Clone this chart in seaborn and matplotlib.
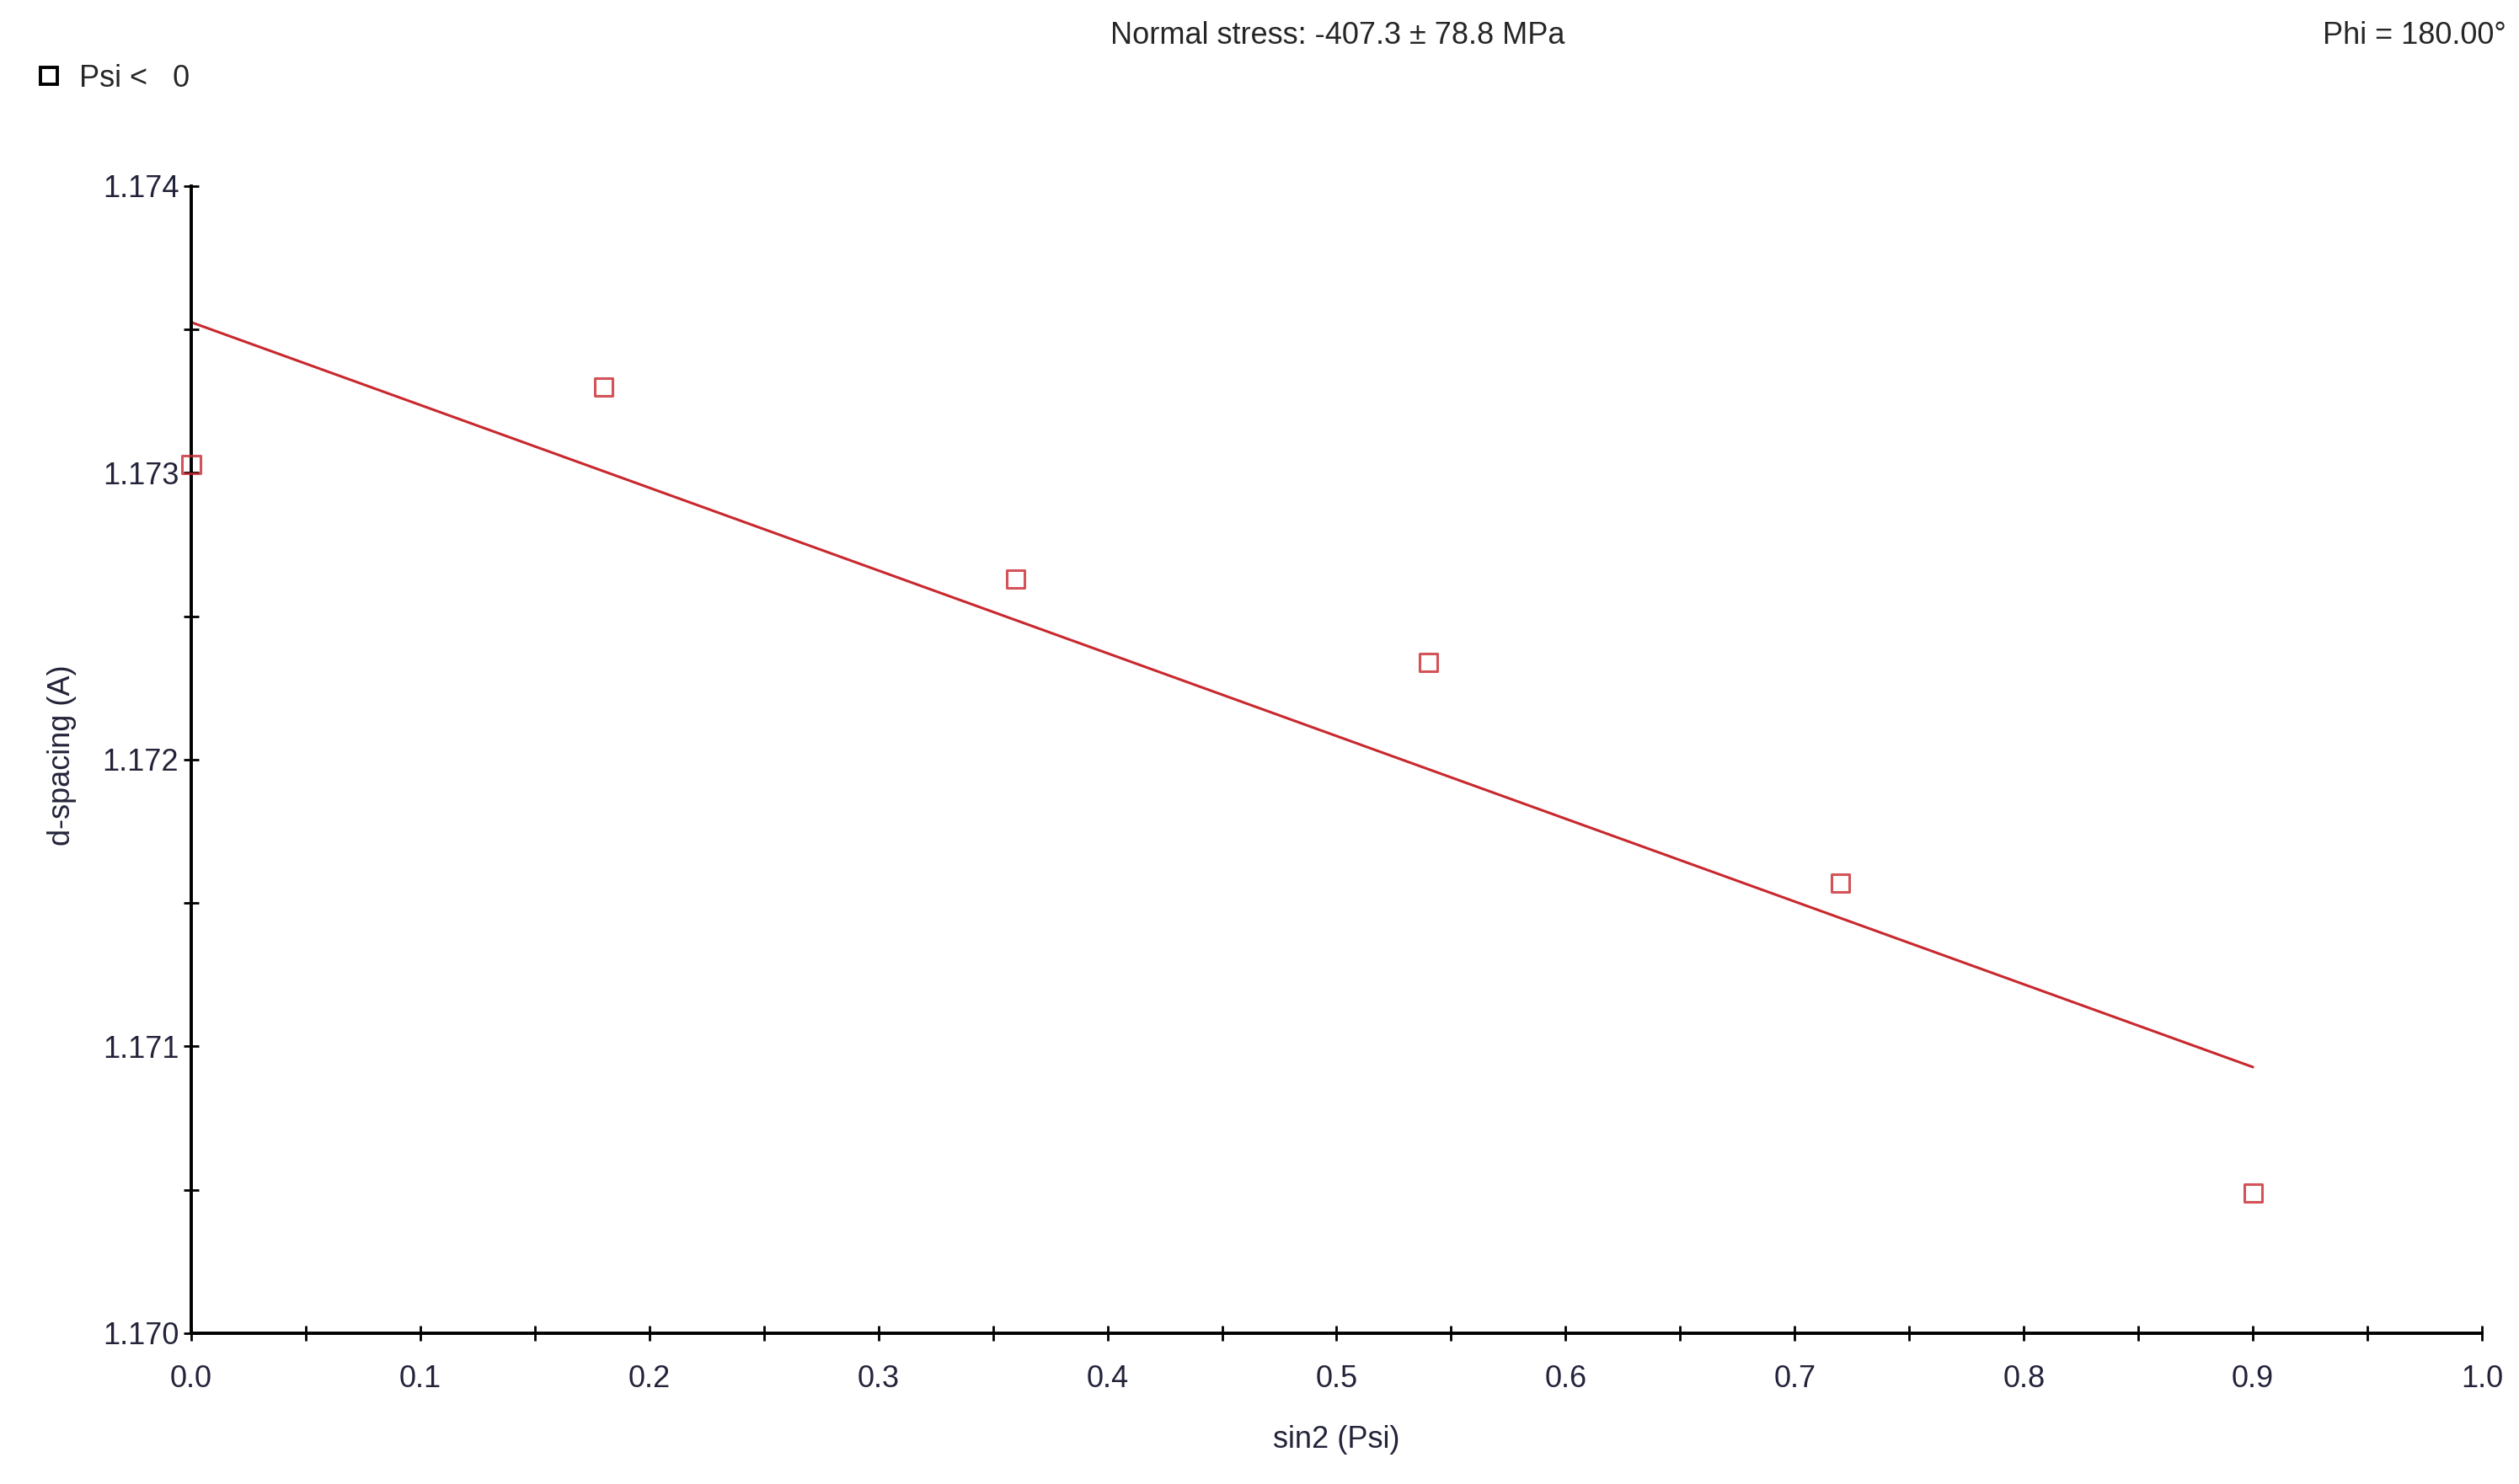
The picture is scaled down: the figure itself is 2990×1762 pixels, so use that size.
import numpy as np
import pandas as pd
import seaborn as sns
import matplotlib.pyplot as plt
from matplotlib.lines import Line2D
from matplotlib.ticker import MultipleLocator, FormatStrFormatter

sin2_psi = [0.0, 0.18, 0.36, 0.54, 0.72, 0.90]
d_spacing = [1.17303, 1.17330, 1.17263, 1.17234, 1.17157, 1.17049]

title_text = "Normal stress: -407.3 \u00b1 78.8 MPa"
phi_text = "Phi = 180.00\u00b0"
legend_text = "Psi <   0"

df = pd.DataFrame({"sin2_psi": sin2_psi, "d_spacing": d_spacing})

sns.set_style("ticks")
plt.rcParams["font.family"] = ["Liberation Sans", "DejaVu Sans"]

red = "#c8282e"
tick_col = "#23233a"

fig = plt.figure(figsize=(14.95, 8.81), dpi=200)
ax = fig.add_axes([0.0759, 0.1016, 0.9853 - 0.0759, 0.8746 - 0.1016])

sns.regplot(x="sin2_psi", y="d_spacing", data=df, ci=None, truncate=True,
            marker="s", color=red, ax=ax,
            scatter_kws={"s": 58, "facecolors": "none", "linewidths": 1.1,
                         "clip_on": False, "zorder": 3},
            line_kws={"linewidth": 1.1})

ax.set_xlim(0.0, 1.0)
ax.set_ylim(1.170, 1.174)
ax.xaxis.set_major_locator(MultipleLocator(0.1))
ax.xaxis.set_minor_locator(MultipleLocator(0.05))
ax.yaxis.set_major_locator(MultipleLocator(0.001))
ax.yaxis.set_minor_locator(MultipleLocator(0.0005))
ax.xaxis.set_major_formatter(FormatStrFormatter("%.1f"))
ax.yaxis.set_major_formatter(FormatStrFormatter("%.3f"))

sns.despine(ax=ax)
for side in ["left", "bottom"]:
    ax.spines[side].set_linewidth(1.4)
    ax.spines[side].set_color("black")

ax.tick_params(which="both", direction="inout", length=6.5, width=1.0,
               color="black", labelsize=13, labelcolor=tick_col)
ax.tick_params(axis="x", which="major", pad=10)
ax.tick_params(axis="y", which="major", pad=2)

ax.set_xlabel("sin2 (Psi)", fontsize=13, color=tick_col)
ax.set_ylabel("d-spacing (A)", fontsize=13, color=tick_col)
ax.xaxis.set_label_coords(0.5, -0.080)
ax.yaxis.set_label_coords(-0.050, 0.504)

fig.text(0.531, 0.976, title_text, ha="center", va="center", fontsize=13)
fig.text(0.995, 0.976, phi_text, ha="right", va="center", fontsize=13)

handle = Line2D([], [], marker="s", linestyle="", markerfacecolor="none",
                markeredgecolor="black", markeredgewidth=1.4, markersize=7)
fig.legend([handle], [legend_text], loc="center left",
           bbox_to_anchor=(0.005, 0.947), frameon=False, fontsize=13,
           handletextpad=0.5, handlelength=1.0, borderpad=0.2)

fig.savefig("out.png", dpi=200, facecolor="white")
